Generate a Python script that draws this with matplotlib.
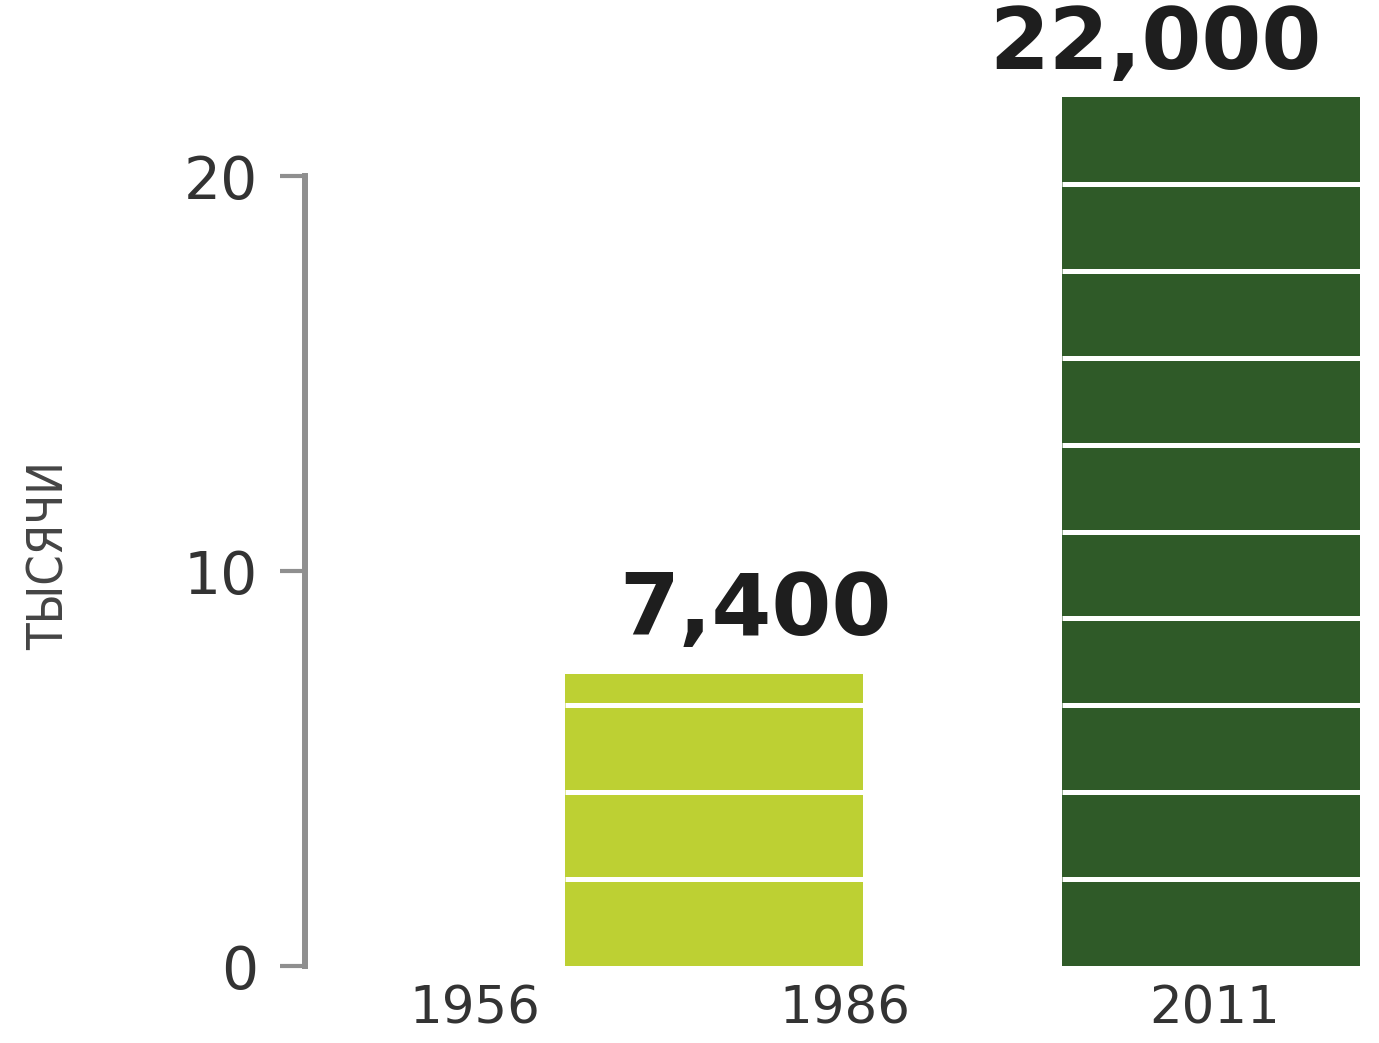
import matplotlib
matplotlib.use("Agg")
import matplotlib.pyplot as plt

# данные: тысячи
years = ["1956", "1986", "2011"]
values = [0.0, 7.4, 22.0]
bar_colors = ["#bdd033", "#bdd033", "#2f5a28"]
y_ticks = [0, 10, 20]
segment = max(values) / 10  # one block = 2.2 thousand

# bar centres on the year scale (labels sit at 0, 1, 2)
bar_x = [0.0, 0.646, 1.99]
bar_w = 0.805
label_offsets = [(0, 27), (30, 28), (-40, 20)]

fig = plt.figure(figsize=(13.79, 10.43), dpi=100)
ax = fig.add_axes([0.2212, 0.0738, 0.7788, 0.9262])

ax.bar(bar_x, values, width=bar_w, color=bar_colors, linewidth=0, zorder=2)

# white separators between blocks
for x, v in zip(bar_x, values):
    k = 1
    while k * segment < v - 0.3:
        ax.hlines(k * segment, x - bar_w / 2, x + bar_w / 2,
                  colors="white", linewidth=3.6, zorder=3)
        k += 1

for x, v, off in zip(bar_x, values, label_offsets):
    if v <= 0:
        continue
    ax.annotate(f"{int(round(v * 1000)):,}", (x, v), xytext=off,
                textcoords="offset points", ha="center", va="baseline",
                fontsize=62, fontweight="bold", color="#1e1e1e")

ax.set_xlim(-0.459, 2.443)
ax.set_ylim(0, 24.46)

ax.set_xticks(range(len(years)))
ax.set_xticklabels(years, fontsize=37, color="#333333")
ax.tick_params(axis="x", length=0, pad=13)

ax.set_yticks(y_ticks)
ax.set_yticklabels([str(t) for t in y_ticks], fontsize=42, color="#333333")
ax.tick_params(axis="y", length=18, width=3, color="#8f8f8f", pad=16)

for side in ["top", "right", "bottom"]:
    ax.spines[side].set_visible(False)
ax.spines["left"].set_bounds(0, 20)
ax.spines["left"].set_linewidth(4.3)
ax.spines["left"].set_color("#8f8f8f")
ax.patch.set_alpha(0)

fig.text(50 / 1379, 1 - 556 / 1043, "ТЫСЯЧИ", rotation=90, ha="center",
         va="center", fontsize=35, color="#444444", fontstretch="condensed")

fig.savefig("out.png", dpi=100, facecolor="white")
